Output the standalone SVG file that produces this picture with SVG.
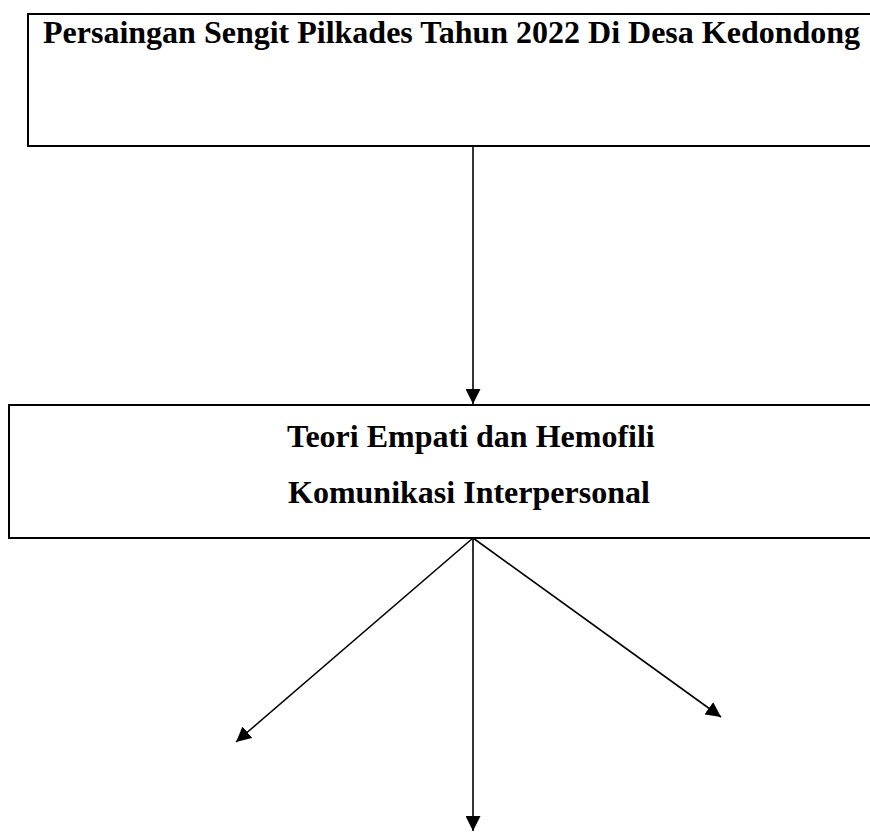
<svg xmlns="http://www.w3.org/2000/svg" width="870" height="832" viewBox="0 0 870 832">
<style>
.box{fill:#fff;stroke:#000;stroke-width:2}
.t{font-family:"Liberation Serif","Times New Roman",serif;font-weight:bold;font-size:32px;fill:#000}
.c{stroke:#000;stroke-width:1.6;fill:none}
</style>
<defs>
<marker id="ah" viewBox="0 0 10 10" refX="10" refY="5" markerWidth="15" markerHeight="15" markerUnits="userSpaceOnUse" orient="auto">
<path d="M0,0 L10,5 L0,10 z" fill="#000"/>
</marker>
</defs>
<rect width="870" height="832" fill="#fff"/>
<g id="node-persaingan">
<rect class="box" x="28" y="14" width="860" height="132"/>
<text class="t" x="43" y="43">Persaingan Sengit Pilkades Tahun 2022 Di Desa Kedondong</text>
</g>
<g id="node-teori">
<rect class="box" x="9" y="405" width="880" height="133"/>
<text class="t" x="287" y="447">Teori Empati dan Hemofili</text>
<text class="t" x="288" y="503">Komunikasi Interpersonal</text>
</g>
<g id="connectors">
<line class="c" x1="473" y1="146" x2="473" y2="404" marker-end="url(#ah)"/>
<line class="c" x1="473" y1="538" x2="236" y2="742" marker-end="url(#ah)"/>
<line class="c" x1="473" y1="538" x2="473" y2="831" marker-end="url(#ah)"/>
<line class="c" x1="473" y1="538" x2="721" y2="717" marker-end="url(#ah)"/>
</g>
</svg>
